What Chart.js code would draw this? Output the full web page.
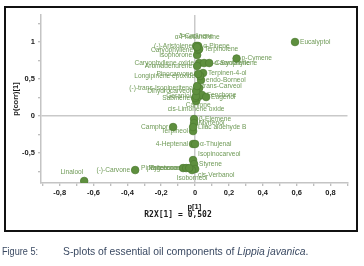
<!DOCTYPE html>
<html><head><meta charset="utf-8">
<script src="https://cdn.jsdelivr.net/npm/chart.js@4.4.0/dist/chart.umd.min.js"></script>
<style>
html,body{margin:0;padding:0;background:#fff;width:364px;height:266px;overflow:hidden;}
#wrap{position:absolute;left:0;top:0;width:364px;height:266px;}
#frame{position:absolute;left:4px;top:6px;width:350px;height:222px;border:2px solid #111;}
canvas{position:absolute;left:0;top:0;}
.cap{position:absolute;top:245px;font-family:"Liberation Sans",Arial,sans-serif;font-size:11px;color:#3b4a63;white-space:nowrap;transform-origin:0 0;}
</style></head>
<body>
<div id="wrap">
<div id="frame"></div>
<canvas id="c" width="364" height="266" style="width:364px;height:266px"></canvas>
<div class="cap" style="left:2px;transform:scaleX(0.83)">Figure 5:</div>
<div class="cap" style="left:63px;transform:scaleX(0.94)">S-plots of essential oil components of <i>Lippia javanica</i>.</div>
</div>
<script>
const compounds = ['Eucalyptol','p-Cymene','Linalool','(-)-Carvone','Camphor','Terpineol','β-Elemene','Myrtenol','Lilac aldehyde B','4-Heptenal','α-Thujenal','Isopinocarveol','Styrene','cis-Verbanol','Isoborneol','Piperitenone','Myrcenone','Tagetenone','cis-Limonene oxide','Carvone','Fenchone','Eugenol','Sabinene','Geraniol','(-)-trans-Isopiperitenol','Dihydrocarveol','trans-Carveol','endo-Borneol','Terpinen-4-ol','Longipinene epoxide','Pinocarvone','Caryophyllene oxide','Aromadendrene','β-Caryophyllene','α-Santalene','Isophorone','(-)-Aristolene','Caryophyllene','α-Pinene','Terpinolene','δ-Cadinene','α-Phellandrene'];
const p1 = [0.59,0.245,-0.655,-0.354,-0.13,-0.012,-0.006,-0.006,-0.012,-0.012,0.0,-0.012,-0.006,0.0,-0.018,-0.071,-0.053,-0.035,0.006,0.018,0.041,0.065,0.0,0.006,0.024,0.006,0.012,0.035,0.047,0.03,0.018,0.024,0.012,0.053,0.083,0.012,0.012,0.018,0.018,0.024,0.006,0.012];
const pcorr = [1.0,0.777,-0.878,-0.73,-0.149,-0.203,-0.041,-0.095,-0.149,-0.378,-0.378,-0.595,-0.649,-0.716,-0.73,-0.703,-0.703,-0.703,0.203,0.257,0.284,0.257,0.243,0.27,0.378,0.338,0.405,0.486,0.581,0.541,0.568,0.716,0.676,0.716,0.716,0.824,0.946,0.892,0.946,0.905,0.946,0.932];
const labelPlacement = ['R','R','TL','L','L','L','R','R','R','L','R','TR','R','BR','B','L','L','L','B','B','R','R','L','L','L','L','R','R','R','L','L','L','L','R','R','L','L','L','R','R','T','T'];

const xTickValues = [-0.9,-0.8,-0.7,-0.6,-0.5,-0.4,-0.3,-0.2,-0.1,0,0.1,0.2,0.3,0.4,0.5,0.6,0.7,0.8,0.9];
const xTickLabels = ['','-0,8','','-0,6','','-0,4','','-0,2','','0','','0,2','','0,4','','0,6','','0,8',''];
const yTickValues = [-0.75,-0.5,-0.25,0,0.25,0.5,0.75,1,1.25];
const yTickLabels = ['','-0,5','','0','','0,5','','1',''];
const xTitle = 'p[1]';
const yTitle = 'p(corr)[1]';
const r2xText = 'R2X[1] = 0,502';

const pts = p1.map((v,i)=>({x:v,y:pcorr[i]}));

const labelPlugin = {
  id:'pointLabels',
  beforeDatasetsDraw(chart){
    const ctx=chart.ctx; const meta=chart.getDatasetMeta(0);
    ctx.save();
    ctx.font='6.6px "Liberation Sans", Arial, sans-serif';
    ctx.fillStyle='#6f9a57';
    ctx.textBaseline='middle';
    meta.data.forEach((pt,i)=>{
      const x=pt.x, y=pt.y; const pl=labelPlacement[i];
      let tx=x, ty=y, al='left';
      switch(pl){
        case 'R': tx=x+5; break;
        case 'L': tx=x-5; al='right'; break;
        case 'T': ty=y-10; al='center'; break;
        case 'B': ty=y+8; al='center'; break;
        case 'TR': tx=x+5; ty=y-6; break;
        case 'BR': tx=x+3; ty=y+6; break;
        case 'TL': tx=x-1; ty=y-9; al='right'; break;
      }
      ctx.textAlign=al;
      ctx.fillText(compounds[i],tx,ty);
    });
    ctx.restore();
  },
  afterDraw(chart){
    const ctx=chart.ctx;
    ctx.save();
    ctx.font='bold 8px "DejaVu Sans Mono", monospace';
    ctx.fillStyle='#1a1a1a';
    ctx.textAlign='center'; ctx.textBaseline='middle';
    ctx.fillText(r2xText,178,215);
    ctx.restore();
  }
};

const tickFont = {size:7.5, weight:'bold', family:'"Liberation Sans", Arial, sans-serif'};
const gridColor = c => (c.tick && c.tick.value===0) ? '#c9c9c9' : 'rgba(0,0,0,0)';

new Chart(document.getElementById('c'), {
  type:'scatter',
  data:{datasets:[{data:pts, backgroundColor:'#5e8f3e', borderColor:'#4f7d32', borderWidth:0.8, pointRadius:3.8, pointHoverRadius:3.8}]},
  options:{
    responsive:false, animation:false, devicePixelRatio:1,
    layout:{padding:{left:0,top:15,right:16.5,bottom:51}},
    plugins:{legend:{display:false}, tooltip:{enabled:false}},
    scales:{
      x:{type:'linear', min:-0.91, max:0.9,
        afterBuildTicks: s => { s.ticks = xTickValues.map(v=>({value:v})); },
        afterFit: s => { s.height = 32; },
        ticks:{autoSkip:false, maxRotation:0, padding:2, color:'#1a1a1a', font:tickFont, callback:(v,i)=>xTickLabels[i]},
        grid:{color:gridColor, lineWidth:1.5, drawTicks:true, tickLength:3, tickColor:'#a8a8a8', tickWidth:1},
        border:{display:true, color:'#c4c4c4', width:1.5},
        title:{display:true, text:xTitle, color:'#1a1a1a', font:{size:7.5, weight:'bold', family:'"Liberation Sans", Arial, sans-serif'}, padding:{top:0,bottom:4}}
      },
      y:{type:'linear', min:-0.905, max:1.365,
        afterBuildTicks: s => { s.ticks = yTickValues.map(v=>({value:v})); },
        afterFit: s => { s.width = 41; },
        ticks:{autoSkip:false, padding:3, color:'#1a1a1a', font:tickFont, callback:(v,i)=>yTickLabels[i]},
        grid:{color:gridColor, lineWidth:1.5, drawTicks:true, tickLength:3, tickColor:'#a8a8a8', tickWidth:1},
        border:{display:true, color:'#c4c4c4', width:1.5},
        title:{display:true, text:yTitle, color:'#1a1a1a', font:{size:7.5, weight:'bold', family:'"Liberation Sans", Arial, sans-serif'}, padding:{top:11,bottom:0}}
      }
    }
  },
  plugins:[labelPlugin]
});
</script>
</body></html>
